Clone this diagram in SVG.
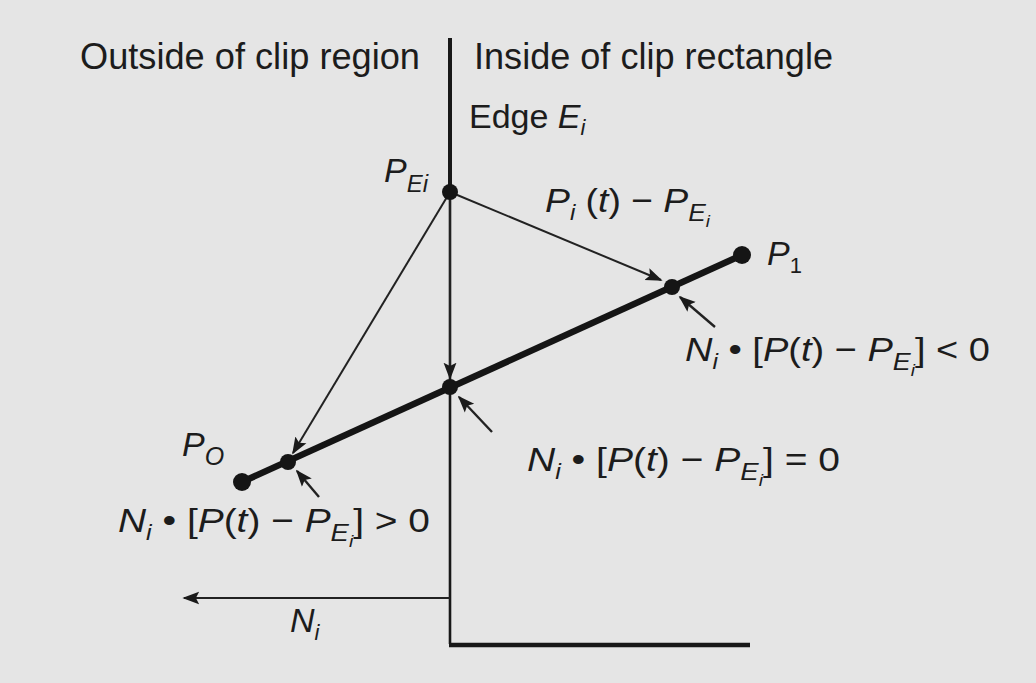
<svg xmlns="http://www.w3.org/2000/svg" width="1036" height="683" viewBox="0 0 1036 683">
<style>
.t{font-family:"Liberation Sans",Arial,sans-serif;fill:#1c1c1c;font-size:34px}
.h{font-size:36px}
.i{font-style:italic}
.thin{stroke:#222;stroke-width:2;fill:none}
.pt{stroke:#222;stroke-width:2.4;fill:none}
.dot{fill:#151515}
</style>
<defs>
<marker id="ahb" viewBox="0 0 10 10" refX="9" refY="5" markerWidth="17" markerHeight="17" markerUnits="userSpaceOnUse" orient="auto">
<path d="M0,1.2 L10,5 L0,8.8 L2,5 Z" fill="#1a1a1a"/>
</marker>
</defs>
<rect width="1036" height="683" fill="#e5e5e5"/>

<g id="edge">
<line x1="450" y1="38" x2="450" y2="192" stroke="#181818" stroke-width="4"/>
<line x1="450" y1="192" x2="450" y2="644" stroke="#181818" stroke-width="2.6"/>
<line x1="449" y1="645" x2="750" y2="645" stroke="#181818" stroke-width="4.5"/>
</g>

<g id="connectors">
<line class="thin" x1="450" y1="192" x2="661" y2="280" marker-end="url(#ahb)"/>
<line class="thin" x1="450" y1="192" x2="293" y2="453" marker-end="url(#ahb)"/>
<line class="thin" x1="450" y1="192" x2="450" y2="378" marker-end="url(#ahb)"/>
<line class="pt" x1="715" y1="327" x2="680" y2="297" marker-end="url(#ahb)"/>
<line class="pt" x1="492" y1="432" x2="459" y2="397" marker-end="url(#ahb)"/>
<line class="pt" x1="319" y1="497" x2="297" y2="471" marker-end="url(#ahb)"/>
<line class="thin" x1="450" y1="598" x2="184" y2="598" marker-end="url(#ahb)"/>
</g>

<g id="segment">
<line x1="242" y1="482" x2="742" y2="255" stroke="#151515" stroke-width="6.5"/>
</g>

<g id="points">
<circle id="pe" class="dot" cx="450" cy="192" r="8"/>
<circle id="p0" class="dot" cx="242" cy="482" r="9"/>
<circle id="p1" class="dot" cx="742" cy="255" r="9"/>
<circle id="x1" class="dot" cx="288" cy="462" r="8"/>
<circle id="x2" class="dot" cx="450" cy="387" r="8"/>
<circle id="x3" class="dot" cx="672" cy="287" r="8"/>
</g>

<g id="labels">
<text class="t h" x="80" y="69" textLength="340" lengthAdjust="spacingAndGlyphs">Outside of clip region</text>
<text class="t h" x="474" y="69" textLength="359" lengthAdjust="spacingAndGlyphs">Inside of clip rectangle</text>
<text class="t" x="469" y="128">Edge <tspan class="i">E</tspan><tspan class="i" font-size="22" dy="7">i</tspan></text>
<text class="t" x="384" y="182"><tspan class="i">P</tspan><tspan class="i" font-size="24" dy="10">Ei</tspan></text>
<text class="t" x="545" y="212" textLength="165" lengthAdjust="spacingAndGlyphs"><tspan class="i">P</tspan><tspan class="i" font-size="22" dy="8">i</tspan><tspan dy="-8"> (</tspan><tspan class="i">t</tspan>) − <tspan class="i">P</tspan><tspan class="i" font-size="24" dy="9">E</tspan><tspan class="i" font-size="17" dy="6">i</tspan></text>
<text class="t" x="767" y="265"><tspan class="i">P</tspan><tspan font-size="22" dy="8">1</tspan></text>
<text class="t" x="182" y="456"><tspan class="i">P</tspan><tspan class="i" font-size="25" dy="9">O</tspan></text>
<text class="t" x="685" y="361" textLength="305" lengthAdjust="spacingAndGlyphs"><tspan class="i">N</tspan><tspan class="i" font-size="22" dy="8">i</tspan><tspan dy="-8"> • [</tspan><tspan class="i">P</tspan>(<tspan class="i">t</tspan>) − <tspan class="i">P</tspan><tspan class="i" font-size="24" dy="9">E</tspan><tspan class="i" font-size="17" dy="6">i</tspan><tspan dy="-15">] &lt; 0</tspan></text>
<text class="t" x="527" y="471" textLength="313" lengthAdjust="spacingAndGlyphs"><tspan class="i">N</tspan><tspan class="i" font-size="22" dy="8">i</tspan><tspan dy="-8"> • [</tspan><tspan class="i">P</tspan>(<tspan class="i">t</tspan>) − <tspan class="i">P</tspan><tspan class="i" font-size="24" dy="9">E</tspan><tspan class="i" font-size="17" dy="6">i</tspan><tspan dy="-15">] = 0</tspan></text>
<text class="t" x="118" y="532" textLength="312" lengthAdjust="spacingAndGlyphs"><tspan class="i">N</tspan><tspan class="i" font-size="22" dy="8">i</tspan><tspan dy="-8"> • [</tspan><tspan class="i">P</tspan>(<tspan class="i">t</tspan>) − <tspan class="i">P</tspan><tspan class="i" font-size="24" dy="9">E</tspan><tspan class="i" font-size="17" dy="6">i</tspan><tspan dy="-15">] &gt; 0</tspan></text>
<text class="t" x="290" y="632"><tspan class="i">N</tspan><tspan class="i" font-size="22" dy="8">i</tspan></text>
</g>
</svg>
